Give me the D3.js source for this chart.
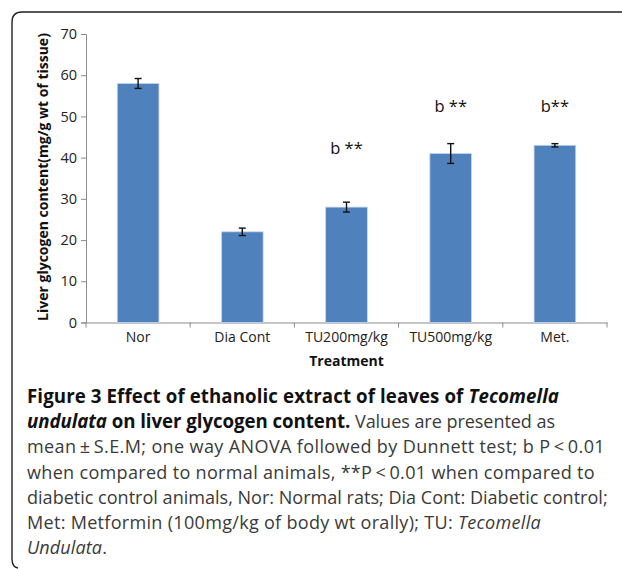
<!DOCTYPE html>
<html>
<head>
<meta charset="utf-8">
<script src="https://cdn.jsdelivr.net/npm/d3@7"></script>
<style>
  body { margin: 0; background: #fff; }
  svg { display: block; }
</style>
</head>
<body>
<script>
var width = 622, height = 569;

// data
var groups = ["Nor", "Dia Cont", "TU200mg/kg", "TU500mg/kg", "Met."];
var means = [58, 22, 28, 41, 43];
var sems = [1.2, 0.9, 1.2, 2.4, 0.4];
var marks = ["", "", "b **", "b **", "b**"];
var markAt = [0, 0, 41, 51, 51];
var yTicks = [0, 10, 20, 30, 40, 50, 60, 70];

var svg = d3.select("body").append("svg")
            .attr("width", width)
            .attr("height", height);

// rounded frame (top + left edges only visible)
svg.append("path")
   .attr("d", "M622,12 L22,12 Q12,12 12,22 L12,559 Q12,567 18,568")
   .attr("fill", "none")
   .attr("stroke", "#222")
   .attr("stroke-width", 1.4);

var x = d3.scaleBand().domain(groups).range([86, 607]).paddingInner(0).paddingOuter(0);
var y = d3.scaleLinear().domain([0, 70]).range([322.5, 34]);
var bw = x.bandwidth() * 0.4;

var font = "Open Sans, DejaVu Sans, sans-serif";

// y axis
var yAxis = svg.append("g")
               .attr("transform", "translate(86,0)")
               .call(d3.axisLeft(y).tickValues(yTicks).tickSize(5).tickPadding(4));
yAxis.select(".domain").attr("stroke", "#8c8c8c");
yAxis.selectAll(".tick line").attr("stroke", "#8c8c8c");
yAxis.selectAll("text").attr("font-family", font).attr("font-size", 14.5).attr("fill", "#222");

// x axis
var xAxis = svg.append("g")
               .attr("transform", "translate(0," + y(0) + ")")
               .call(d3.axisBottom(x).tickSize(0).tickPadding(10));
xAxis.select(".domain").attr("stroke", "#8c8c8c");
xAxis.selectAll("text").attr("font-family", font).attr("font-size", 14).attr("fill", "#222");

// category separators
svg.append("g").selectAll("line")
   .data(groups.concat(["end"]))
   .enter().append("line")
   .attr("x1", (d, i) => x.range()[0] + i * x.step())
   .attr("x2", (d, i) => x.range()[0] + i * x.step())
   .attr("y1", y(0))
   .attr("y2", y(0) + 5)
   .attr("stroke", "#8c8c8c");

// bars
svg.append("g").selectAll("rect")
   .data(groups)
   .enter().append("rect")
   .attr("x", d => x(d) + (x.bandwidth() - bw) / 2)
   .attr("y", (d, i) => y(means[i]))
   .attr("width", bw)
   .attr("height", (d, i) => y(0) - y(means[i]))
   .attr("fill", "#4f81bd")
   .attr("stroke", "#c6d6ea")
   .attr("stroke-width", 0.8);

// error bars
var eb = svg.append("g").attr("stroke", "#111").attr("stroke-width", 1.4);
groups.forEach(function (g, i) {
  var cx = x(g) + x.bandwidth() / 2;
  eb.append("line").attr("x1", cx).attr("x2", cx)
    .attr("y1", y(means[i] + sems[i])).attr("y2", y(means[i] - sems[i]));
  [means[i] + sems[i], means[i] - sems[i]].forEach(function (v) {
    eb.append("line").attr("x1", cx - 3.5).attr("x2", cx + 3.5)
      .attr("y1", y(v)).attr("y2", y(v));
  });
});

// significance marks
svg.append("g").selectAll("text")
   .data(groups)
   .enter().append("text")
   .attr("x", d => x(d) + x.bandwidth() / 2)
   .attr("y", (d, i) => y(markAt[i]))
   .attr("text-anchor", "middle")
   .attr("font-family", font)
   .attr("font-size", 16.5)
   .attr("fill", "#111")
   .text((d, i) => marks[i]);

// axis titles
svg.append("text")
   .attr("transform", "translate(48," + 177 + ") rotate(-90)")
   .attr("text-anchor", "middle")
   .attr("font-family", font)
   .attr("font-weight", "bold")
   .attr("font-size", 14)
   .attr("fill", "#111")
   .text("Liver glycogen content(mg/g wt of tissue)");

svg.append("text")
   .attr("x", (86 + 607) / 2)
   .attr("y", 366)
   .attr("text-anchor", "middle")
   .attr("font-family", font)
   .attr("font-weight", "bold")
   .attr("font-size", 14)
   .attr("fill", "#111")
   .text("Treatment");

// caption
var capLines = [
  [["Figure 3 Effect of ethanolic extract of leaves of ", "b"], ["Tecomella", "bi"]],
  [["undulata", "bi"], [" on liver glycogen content.", "b"], [" Values are presented as", ""]],
  [["mean\u2009\u00b1\u2009S.E.M; one way ANOVA followed by Dunnett test; b P\u2009<\u20090.01", ""]],
  [["when compared to normal animals, **P\u2009<\u20090.01 when compared to", ""]],
  [["diabetic control animals, Nor: Normal rats; Dia Cont: Diabetic control;", ""]],
  [["Met: Metformin (100mg/kg of body wt orally); TU: ", ""], ["Tecomella", "i"]],
  [["Undulata", "i"], [".", ""]]
];
var capEnds = [559, 555, 605, 595, 608, 541, 107];
var capX = 27;
var capBase = 403;
var capStep = 25.2;

// size the regular and bold faces from the widest line of each
function natWidth(str, weight, size) {
  var t = svg.append("text").attr("font-family", font)
             .attr("font-weight", weight).attr("font-size", size).text(str);
  var w = t.node().getComputedTextLength();
  t.remove();
  return w;
}
var regSize = 18 * (capEnds[4] - capX) / natWidth(capLines[4][0][0], "normal", 18);
var boldSize = 18 * (capEnds[0] - capX) / natWidth(capLines[0].map(p => p[0]).join(""), "bold", 18);

capLines.forEach(function (parts, i) {
  var t = svg.append("text")
             .attr("x", capX)
             .attr("y", capBase + i * capStep)
             .attr("font-family", font)
             .attr("fill", "#3a3a3a");
  parts.forEach(function (p) {
    var bold = p[1].indexOf("b") >= 0;
    t.append("tspan")
     .attr("font-weight", bold ? "bold" : "normal")
     .attr("font-size", bold ? boldSize : regSize)
     .attr("fill", bold ? "#111" : null)
     .attr("font-style", p[1].indexOf("i") >= 0 ? "italic" : null)
     .text(p[0]);
  });
  // stretch only the gaps between letters so the line ends where it does in the figure
  var natural = t.node().getComputedTextLength();
  var n = parts.map(p => p[0]).join("").length;
  var ls = ((capEnds[i] - capX) - natural) / n;
  if (Math.abs(ls) > 0.02) t.attr("letter-spacing", ls);
});
</script>
</body>
</html>
